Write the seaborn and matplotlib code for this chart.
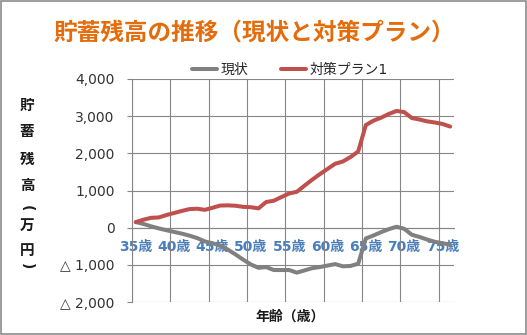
import numpy as np
import pandas as pd
import matplotlib
matplotlib.use("Agg")
import matplotlib.pyplot as plt
import seaborn as sns
from matplotlib.patches import Rectangle

# ---- data -------------------------------------------------------------
ages = list(range(35, 77))
current = [150, 100, 35, -20, -70, -115, -160, -215, -280, -370,
           -420, -480, -590, -720, -860, -990, -1080, -1060, -1140, -1140,
           -1140, -1210, -1150, -1090, -1060, -1020, -980, -1040, -1030, -970,
           -290, -210, -120, -40, 25, -30, -190, -250, -320, -380,
           -420, -460]
plan1 = [150, 215, 265, 275, 340, 395, 450, 500, 510, 480,
         535, 595, 600, 590, 560, 550, 520, 690, 725, 825,
         920, 965, 1130, 1290, 1440, 1580, 1720, 1780, 1900, 2050,
         2760, 2880, 2960, 3060, 3140, 3110, 2950, 2910, 2860, 2830,
         2790, 2720]

series_names = ["現状", "対策プラン1"]
series_colors = ["#808080", "#C0504D"]

y_ticks = [-2000, -1000, 0, 1000, 2000, 3000, 4000]
y_tick_labels = ["△ 2,000", "△ 1,000", "0", "1,000", "2,000", "3,000", "4,000"]
x_label_ages = [35, 40, 45, 50, 55, 60, 65, 70, 75]
x_tick_labels = ["35歳", "40歳", "45歳", "50歳", "55歳", "60歳", "65歳", "70歳", "75歳"]

title = "貯蓄残高の推移（現状と対策プラン）"
x_title = "年齢（歳）"
# vertical axis title: characters stacked top to bottom, brackets turned sideways
y_title_chars = ["貯", "蓄", "残", "高", "(", "万", "円", ")"]

# ---- style ------------------------------------------------------------
sns.set_theme(style="white")
plt.rcParams["font.family"] = ["DejaVu Sans", "Noto Sans CJK JP"]

GRID = "#868686"
W, H = 527, 335

df = pd.DataFrame({
    "年齢": ages * 2,
    "貯蓄残高": current + plan1,
    "系列": [series_names[0]] * len(ages) + [series_names[1]] * len(ages),
})

fig = plt.figure(figsize=(W / 100, H / 100), dpi=100)
fig.patch.set_facecolor("white")
ax = fig.add_axes([132 / W, 33 / H, 322 / W, 223 / H])

sns.lineplot(data=df, x="年齢", y="貯蓄残高", hue="系列",
             palette=dict(zip(series_names, series_colors)),
             hue_order=series_names, linewidth=2.9, ax=ax, legend=True,
             zorder=3)

ax.set_xlim(34.5, 76.5)
ax.set_ylim(-2000, 4000)
ax.set_axisbelow(True)

ax.set_yticks(y_ticks, labels=y_tick_labels)
ax.set_xticks(x_label_ages, labels=x_tick_labels)
ax.set_xticks(np.arange(34.5, 76, 5), minor=True)

ax.grid(False)
ax.grid(which="minor", axis="x", color=GRID, linewidth=0.8)
ax.grid(which="major", axis="y", color=GRID, linewidth=0.8)

for side in ("top", "right"):
    ax.spines[side].set_visible(False)
ax.spines["left"].set_color(GRID)
ax.spines["left"].set_linewidth(0.8)
ax.spines["bottom"].set_position(("data", 0))
ax.spines["bottom"].set_color(GRID)
ax.spines["bottom"].set_linewidth(0.8)

ax.tick_params(axis="x", which="both", length=0, pad=9,
               labelsize=10, labelcolor="#4A7EBB")
for lbl in ax.get_xticklabels():
    lbl.set_fontweight("bold")
ax.tick_params(axis="y", which="major", left=True, length=3.6, width=0.8,
               color=GRID, pad=9, labelsize=10, labelcolor="#333333")
ax.set_xlabel("")
ax.set_ylabel("")

# legend above the plot area
handles, labels = ax.get_legend_handles_labels()
for h in handles:
    h.set_linewidth(2.9)
ax.legend(handles, labels, loc="center", ncol=2, frameon=False,
          bbox_to_anchor=((290 - 132) / 322, 1 + 9 / 223),
          fontsize=10, handlelength=1.8, handletextpad=0.25,
          columnspacing=2.4)

# titles
fig.text(254 / W, 1 - 33 / H, title, ha="center", va="center",
         fontsize=17, fontweight="bold", color="#E46C0A")
fig.text(290 / W, 1 - 317 / H, x_title, ha="center", va="center",
         fontsize=10, fontweight="bold", color="#1a1a1a")
for ch, yp in zip(y_title_chars, [105, 131.7, 159, 185, 208, 225, 250.7, 266]):
    if ch in "()":
        fig.text(27 / W, 1 - yp / H, ch, ha="center", va="center",
                 rotation=-90, rotation_mode="anchor", fontsize=10,
                 fontweight="bold", color="#1a1a1a")
    else:
        fig.text(27 / W, 1 - yp / H, ch, ha="center", va="center",
                 fontsize=10.5, fontweight="bold", color="#1a1a1a")

# outer frame
fig.add_artist(Rectangle((0.5 / W, 1 / H), 525 / W, 333.5 / H,
                         transform=fig.transFigure, fill=False,
                         edgecolor="#8c8c8c", linewidth=1.2))

fig.savefig("out.png", dpi=100, facecolor="white")
